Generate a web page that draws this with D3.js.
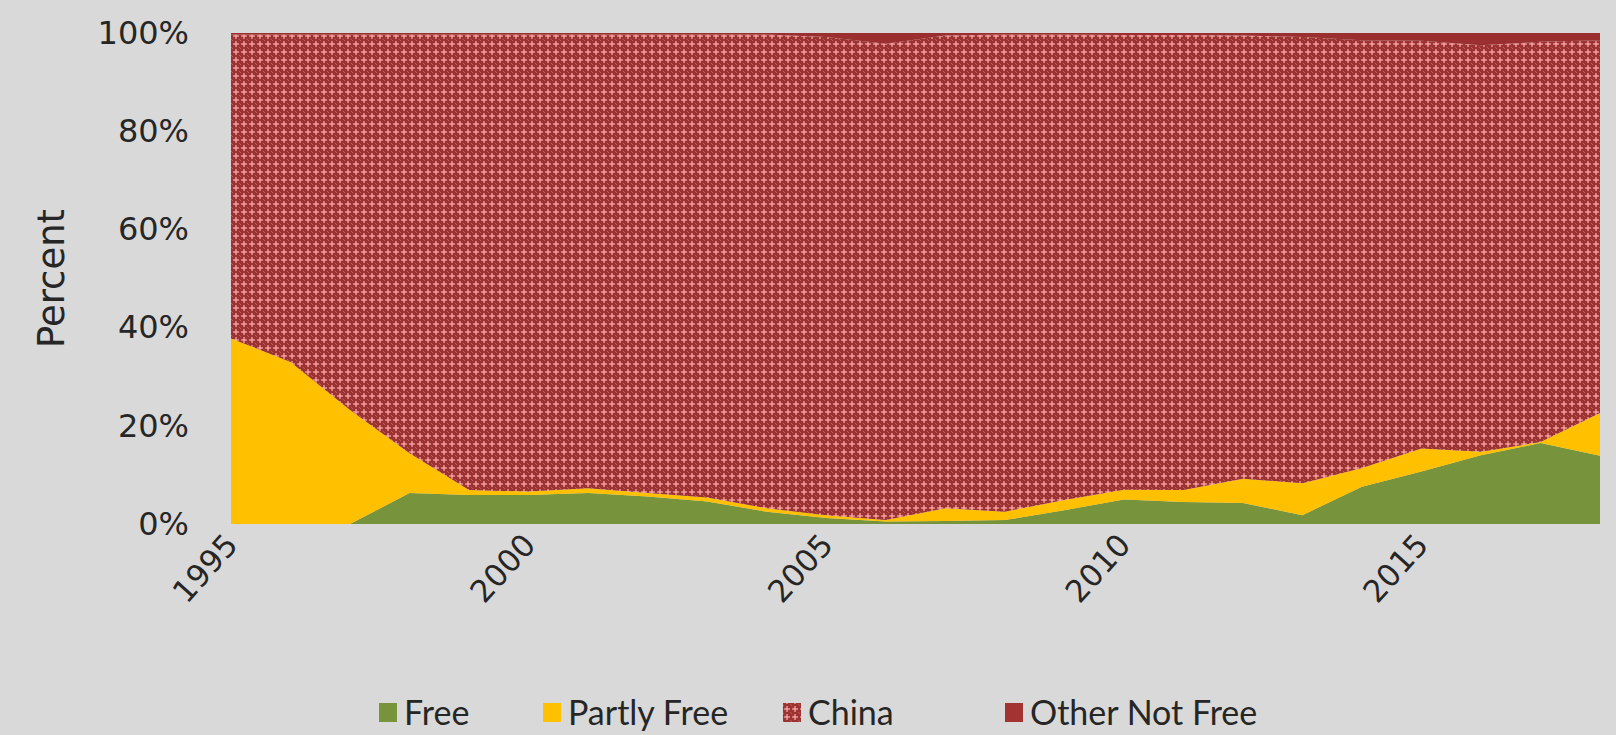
<!DOCTYPE html>
<html>
<head>
<meta charset="utf-8">
<script src="https://cdn.jsdelivr.net/npm/d3@7"></script>
<style>
  html, body { margin: 0; padding: 0; background: #d9d9d9; }
  svg { display: block; }
</style>
</head>
<body>
<svg id="chart" width="1616" height="735"></svg>
<script>
const years = [1995,1996,1997,1998,1999,2000,2001,2002,2003,2004,2005,2006,2007,2008,2009,2010,2011,2012,2013,2014,2015,2016,2017,2018];
const free = [0,0,0,6.3,5.9,5.9,6.3,5.6,4.6,2.5,1.2,0.5,0.6,0.8,2.8,5.0,4.5,4.3,1.8,7.6,10.7,14.0,16.5,13.9];
const partlyFree = [37.8,33.0,23.2,8.1,1.0,0.7,1.0,0.7,0.8,0.7,0.6,0.3,2.6,1.7,2.1,2.0,2.4,4.9,6.5,3.8,4.7,0.7,0.2,8.7];
const china = [61.9,66.7,76.5,85.3,92.8,93.1,92.4,93.4,94.3,96.5,97.4,97.0,96.3,97.2,94.8,92.6,92.7,90.3,90.9,87.1,83.0,82.8,81.5,75.9];
const otherNotFree = [0.3,0.3,0.3,0.3,0.3,0.3,0.3,0.3,0.3,0.3,0.8,2.2,0.5,0.3,0.3,0.4,0.4,0.5,0.8,1.5,1.6,2.5,1.8,1.5];
const seriesNames = ["Free","Partly Free","China","Other Not Free"];
const xTicks = [1995,2000,2005,2010,2015];
const yTicks = [0,20,40,60,80,100];

const rows = years.map((y,i) => ({year:y, "Free":free[i], "Partly Free":partlyFree[i], "China":china[i], "Other Not Free":otherNotFree[i]}));

const svg = d3.select("#chart");
const W = 1616, H = 735;
const m = {left:231, right:16, top:33, bottom:211};
const x = d3.scaleLinear().domain([1995,2018]).range([m.left, W-m.right]);
const y = d3.scaleLinear().domain([0,100]).range([H-m.bottom, m.top]);

const defs = svg.append("defs");
const pat = defs.append("pattern").attr("id","chinaPat").attr("patternUnits","userSpaceOnUse")
  .attr("width",8).attr("height",8);
pat.append("rect").attr("width",8).attr("height",8).attr("fill","#9c3333");
pat.append("rect").attr("x",3).attr("y",1).attr("width",2).attr("height",6).attr("fill","#dc7b7b");
pat.append("rect").attr("x",1).attr("y",3).attr("width",6).attr("height",2).attr("fill","#dc7b7b");
pat.append("rect").attr("x",3).attr("y",3).attr("width",2).attr("height",2).attr("fill","#eca0a0");
pat.append("rect").attr("x",0).attr("y",0).attr("width",1).attr("height",1).attr("fill","#c05858");
pat.append("rect").attr("x",7).attr("y",7).attr("width",1).attr("height",1).attr("fill","#c05858");

const fills = {"Free":"#77933c","Partly Free":"#ffc000","China":"url(#chinaPat)","Other Not Free":"#9b2f2f"};
const legendFills = {"Free":"#77933c","Partly Free":"#ffc000","China":"url(#chinaPat)","Other Not Free":"#a33333"};

const stack = d3.stack().keys(seriesNames);
const layers = stack(rows);
const area = d3.area().x(d => x(d.data.year)).y0(d => y(d[0])).y1(d => y(d[1]));

svg.append("g").selectAll("path").data(layers).join("path")
  .attr("d", area).attr("fill", d => fills[d.key]);

// Y axis
const yAxis = d3.axisLeft(y).tickValues(yTicks).tickFormat(d => d + "%").tickSize(0).tickPadding(42);
const gy = svg.append("g").attr("transform", `translate(${m.left},0)`).call(yAxis);
gy.select(".domain").remove();
gy.selectAll("text").attr("font-family","DejaVu Sans, Verdana, sans-serif").attr("font-size",32).attr("fill","#262626");

// X axis
const xAxis = d3.axisBottom(x).tickValues(xTicks).tickFormat(d3.format("d")).tickSize(0).tickPadding(0);
const gx = svg.append("g").attr("transform", `translate(0,${H-m.bottom})`).call(xAxis);
gx.select(".domain").remove();
gx.selectAll("text").attr("font-family","DejaVu Sans, Verdana, sans-serif").attr("font-size",31).attr("fill","#262626")
  .attr("text-anchor","end").attr("dy",0)
  .attr("transform","translate(8,22) rotate(-48)");

// Y title
svg.append("text").attr("transform", `translate(64,${(y(0)+y(100))/2}) rotate(-90)`)
  .attr("text-anchor","middle").attr("font-family","DejaVu Sans, Verdana, sans-serif").attr("font-size",37)
  .attr("fill","#262626").text("Percent");

// Legend
const legendX = [379, 543, 783, 1005];
const lg = svg.append("g");
seriesNames.forEach((s,i) => {
  const g = lg.append("g").attr("transform", `translate(${legendX[i]},713)`);
  g.append("rect").attr("x",0).attr("y",-10).attr("width",18).attr("height",19).attr("fill",legendFills[s]);
  g.append("text").attr("x",25).attr("y",0).attr("dy","0.36em").attr("font-family","Lato, 'Open Sans', sans-serif")
    .attr("font-size",34).attr("fill","#262626").text(s);
});
</script>
</body>
</html>
